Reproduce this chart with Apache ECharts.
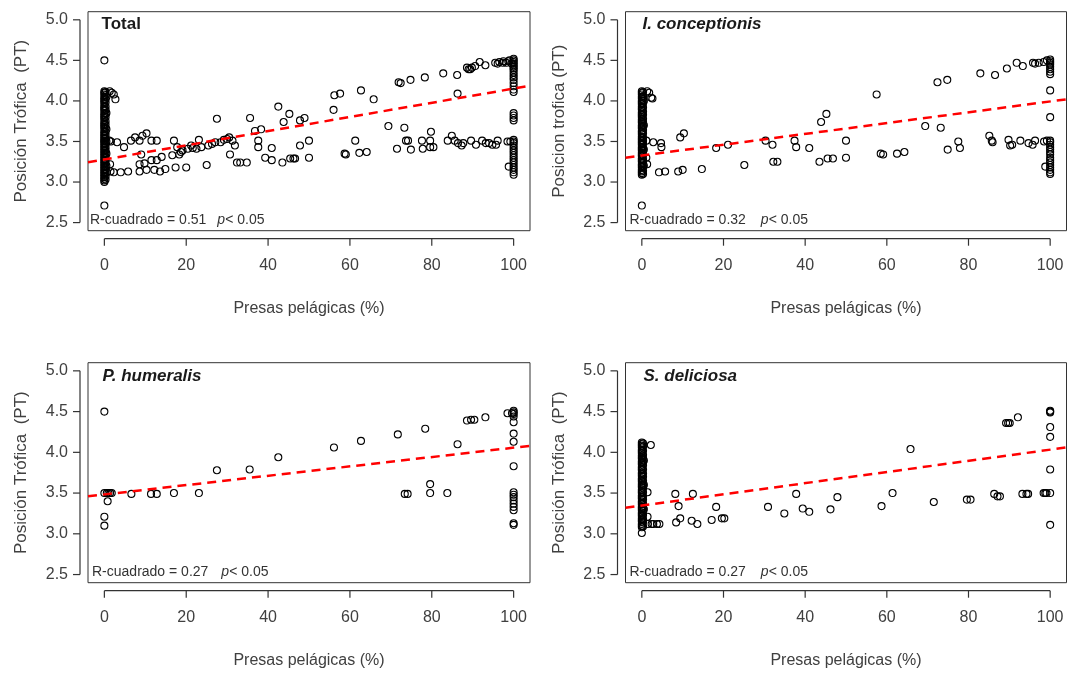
<!DOCTYPE html>
<html>
<head>
<meta charset="utf-8">
<script src="https://cdn.jsdelivr.net/npm/echarts@6/dist/echarts.min.js"></script>
<style>
html,body{margin:0;padding:0;background:#ffffff;}
#chart{width:1070px;height:673px;}
</style>
</head>
<body>
<div id="chart"></div>
<script>
// ---------------- DATA ----------------
const xTicks = [0, 20, 40, 60, 80, 100];
const yTicks = [2.5, 3.0, 3.5, 4.0, 4.5, 5.0];
const xTitle = 'Presas pelágicas (%)';
const yTitles = ['Posición Trófica  (PT)', 'Posicion trofica (PT)', 'Posición Trófica  (PT)', 'Posición Trófica  (PT)'];
const panelNames = ['Total', 'I. conceptionis', 'P. humeralis', 'S. deliciosa'];
const rSquared = ['0.51', '0.32', '0.27', '0.27'];
const pText = '< 0.05';

// Total
const totalCol0 = [4.12,4.1,4.08,4.05,4.03,4.01,3.99,3.97,3.94,3.92,3.9,3.88,3.85,3.83,3.81,3.79,3.77,3.74,3.72,3.7,3.68,3.66,3.63,3.61,3.59,3.57,3.55,3.53,3.51,3.5,3.48,3.46,3.44,3.42,3.4,3.38,3.36,3.34,3.32,3.3,3.28,3.26,3.24,3.22,3.2,3.18,3.16,3.14,3.12,3.1,3.08,3.06,3.04,3.02,3.0];
const totalCol0b = [4.11,4.07,4.02,3.98,3.93,3.89,3.84,3.8,3.75,3.71,3.67,3.62,3.58,3.54,3.5,3.47,3.43,3.39,3.35,3.31,3.27,3.23,3.19,3.15,3.11,3.07,3.03];
const totalCol100 = [4.52,4.5,4.48,4.46,4.44,4.42,4.4,4.38,4.35,4.32,4.29,4.26,4.22,4.18,4.14,4.11,3.85,3.82,3.79,3.76,3.52,3.5,3.48,3.45,3.42,3.39,3.36,3.33,3.3,3.27,3.24,3.21,3.18,3.15,3.12,3.09];
const totalPts = [[0,4.5],[0,2.71],[0.5,4.05],[0.5,3.85],[0.5,3.65],[0.5,3.5],[0.5,3.35],[0.5,3.2],[0.6,3.12],
[1.3,4.12],[1.8,4.1],[2.3,4.08],[2.7,4.02],[1.2,3.51],[1.6,3.5],[3.1,3.49],[4.8,3.43],[1.4,3.22],
[1.5,3.13],[2.3,3.12],[4.0,3.12],[5.8,3.13],[6.5,3.51],[7.5,3.55],[8.6,3.51],[9.3,3.57],[10.3,3.6],[11.5,3.51],[12.8,3.51],
[9.0,3.34],[8.6,3.22],[9.8,3.23],[8.6,3.13],[10.3,3.15],[11.5,3.27],[12.8,3.27],[12.2,3.15],[13.6,3.13],[14.0,3.31],[14.9,3.16],
[16.6,3.33],[17.0,3.51],[17.4,3.18],[17.8,3.43],[18.3,3.34],[18.7,3.37],[19.1,3.39],[20.0,3.18],[20.4,3.41],[21.2,3.45],[21.6,3.42],
[22.5,3.41],[23.1,3.52],[23.7,3.43],[25.0,3.21],[25.4,3.45],[26.3,3.47],[27.1,3.49],[27.5,3.78],[28.4,3.49],[29.2,3.52],[30.0,3.53],
[30.5,3.55],[30.7,3.34],[31.3,3.51],[31.9,3.45],[32.4,3.24],[33.2,3.24],[34.8,3.24],[35.6,3.79],[36.8,3.63],[37.6,3.51],[37.6,3.43],
[38.3,3.65],[39.3,3.3],[40.9,3.42],[40.9,3.27],[42.5,3.93],[43.5,3.24],[43.8,3.74],[45.2,3.84],[45.4,3.29],[46.2,3.29],[46.6,3.29],
[47.8,3.45],[47.8,3.76],[48.9,3.79],[50.0,3.51],[50.0,3.3],[56.0,3.89],[56.2,4.07],[57.6,4.09],[58.7,3.35],[59.0,3.34],[61.3,3.51],
[62.3,3.36],[62.7,4.13],[64.1,3.37],[65.8,4.02],[69.4,3.69],[71.5,3.41],[71.9,4.23],[72.4,4.22],[73.3,3.67],[73.7,3.51],[74.2,3.51],
[74.9,3.4],[74.8,4.26],[77.6,3.51],[77.8,3.41],[78.3,4.29],[79.8,3.62],[79.6,3.51],[79.6,3.43],[80.4,3.43],[82.8,4.34],[83.9,3.51],
[84.9,3.57],[85.6,3.51],[86.2,4.32],[86.3,4.09],[86.4,3.48],[87.3,3.45],[87.7,3.48],[88.6,4.41],[89.0,4.39],[89.4,4.39],[89.8,4.41],
[89.6,3.51],[90.6,4.43],[90.8,3.46],[91.7,4.48],[92.3,3.51],[93.1,4.44],[93.2,3.48],[94.0,3.48],[94.8,3.46],[95.7,3.46],[96.1,3.51],
[95.5,4.47],[96.1,4.46],[96.5,4.48],[97.4,4.47],[97.5,4.49],[98.2,4.47],[98.7,4.49],[99.0,4.5],[99.5,4.46],[98.8,3.19],[98.5,3.5],[99.2,3.5]];
const totalFit = [[-4, 3.243], [104, 4.187]];

// I. conceptionis
const concCol0 = [4.12,4.1,4.08,4.05,4.03,4.0,3.98,3.96,3.93,3.91,3.89,3.86,3.84,3.82,3.8,3.77,3.75,3.73,3.7,3.68,3.66,3.63,3.61,3.59,3.56,3.54,3.52,3.5,3.48,3.46,3.43,3.41,3.39,3.36,3.34,3.32,3.29,3.27,3.25,3.22,3.2,3.18,3.15,3.13,3.11,3.09];
const concCol0b = [4.11,4.06,4.02,3.97,3.92,3.87,3.83,3.78,3.74,3.69,3.64,3.6,3.55,3.51,3.47,3.42,3.38,3.33,3.28,3.24,3.19,3.14,3.1];
const concCol100 = [4.51,4.49,4.47,4.45,4.42,4.39,4.36,4.33,4.13,3.8,3.51,3.49,3.46,3.43,3.4,3.37,3.34,3.3,3.27,3.24,3.21,3.18,3.15,3.12,3.1];
const concPts = [[0,2.71],[0.5,4.0],[0.5,3.7],[0.5,3.4],[0.5,3.2],[1.3,4.12],[1.8,4.1],[2.3,4.04],[2.6,4.03],
[1.1,3.51],[2.8,3.49],[4.7,3.48],[4.8,3.43],[1.3,3.22],[1.1,3.3],[4.2,3.12],[5.7,3.13],[8.9,3.13],[10.0,3.15],[9.4,3.55],
[10.3,3.6],[14.7,3.16],[18.2,3.42],[21.1,3.46],[25.1,3.21],[30.3,3.51],[32.0,3.46],[32.2,3.25],[33.2,3.25],[37.4,3.51],
[37.8,3.43],[41.0,3.42],[43.5,3.25],[43.9,3.74],[45.2,3.84],[45.5,3.29],[46.8,3.29],[50.0,3.51],[50.0,3.3],[57.5,4.08],
[58.5,3.35],[59.1,3.34],[62.5,3.35],[64.3,3.37],[69.4,3.69],[72.4,4.23],[73.2,3.67],[74.8,4.26],[74.9,3.4],[77.5,3.5],
[77.9,3.42],[82.9,4.34],[85.1,3.57],[85.7,3.51],[85.9,3.49],[86.5,4.32],[89.4,4.4],[89.8,3.52],[90.2,3.45],[90.7,3.46],
[91.8,4.47],[92.7,3.51],[93.3,4.43],[94.7,3.48],[95.7,3.46],[96.3,3.51],[95.8,4.47],[96.3,4.46],[97.2,4.47],[98.4,4.48],
[99.2,4.5],[98.8,3.19],[99.2,3.51],[98.5,3.5]];
const concFit = [[-4, 3.30], [104, 4.02]];

// P. humeralis
const humCol100 = [4.51,4.49,4.47,4.44,4.37,4.23,4.13,3.83,3.51,3.48,3.45,3.41,3.37,3.33,3.29,3.13,3.11];
const humPts = [[0,4.5],[0,3.5],[0.6,3.5],[1.0,3.5],[1.4,3.5],[1.8,3.5],[0.8,3.4],[0,3.21],[0,3.1],
[6.6,3.49],[11.4,3.49],[12.8,3.49],[17.0,3.5],[23.1,3.5],[27.5,3.78],[35.5,3.79],[42.5,3.94],[56.1,4.06],
[62.7,4.14],[71.7,4.22],[73.4,3.49],[74.1,3.49],[78.4,4.29],[79.6,3.61],[79.6,3.5],[83.8,3.5],[86.3,4.1],
[88.6,4.39],[89.6,4.4],[90.4,4.4],[93.1,4.43],[98.5,4.48],[99.6,4.48]];
const humFit = [[-4, 3.46], [104, 4.08]];

// S. deliciosa
const delCol0 = [4.12,4.1,4.08,4.06,4.03,4.01,3.99,3.96,3.94,3.92,3.89,3.87,3.85,3.82,3.8,3.78,3.75,3.73,3.71,3.68,3.66,3.64,3.61,3.59,3.57,3.54,3.52,3.5,3.47,3.45,3.43,3.4,3.38,3.36,3.33,3.31,3.29,3.26,3.24,3.22,3.19,3.17,3.15,3.12,3.1,3.08];
const delCol0b = [4.11,4.07,4.02,3.97,3.93,3.88,3.84,3.79,3.74,3.7,3.65,3.6,3.56,3.51,3.46,3.42,3.37,3.32,3.28,3.23,3.18,3.14,3.09];
const delCol100 = [4.51,4.5,4.49,4.31,4.19,3.79,3.5,3.11];
const delPts = [[0,3.01],[0.5,3.9],[0.5,3.6],[0.5,3.3],[2.2,4.09],[1.4,3.51],[1.4,3.21],[1.5,3.12],[2.4,3.12],[2.8,3.12],[3.7,3.12],[4.3,3.12],
[8.2,3.49],[9.0,3.34],[8.4,3.14],[9.4,3.19],[12.5,3.49],[12.2,3.16],[13.6,3.12],[17.1,3.17],[18.2,3.33],[19.6,3.19],[20.2,3.19],
[30.9,3.33],[34.9,3.25],[37.8,3.49],[39.4,3.31],[41.0,3.27],[46.2,3.3],[47.9,3.45],[58.7,3.34],[61.4,3.5],[65.8,4.04],[71.5,3.39],
[79.6,3.42],[80.5,3.42],[86.3,3.49],[87.1,3.46],[87.7,3.46],[89.2,4.36],[89.7,4.36],[90.1,4.36],[92.1,4.43],[93.2,3.49],[94.2,3.49],
[94.6,3.49],[98.4,3.5],[98.8,3.5],[99.1,3.5]];
const delFit = [[-4, 3.32], [104, 4.06]];

// ---------------- LAYOUT ----------------
const FONT = "'Liberation Sans', Arial, Helvetica, sans-serif";
const boxes = [
  {left: 88,    top: 11.7,  width: 442, height: 219},
  {left: 625.5, top: 11.7,  width: 441, height: 219},
  {left: 88,    top: 362.7, width: 442, height: 220},
  {left: 625.5, top: 362.7, width: 441, height: 220}
];
const AXIS_GAP = 8, TICK_LEN = 7;
const XMIN = -4, XMAX = 104, YMIN = 2.4, YMAX = 5.1;
const titleTops = [15.5, 15.5, 367.5, 367.5];
const titleLefts = [101.6, 642.5, 102.6, 643.5];
const annLefts = [90, 629.5, 92, 629.5];
const annTops = [213, 213, 565, 565];
const annGaps = [11, 15, 13, 15];

const colPts = (vals, x) => vals.map(v => [x, v]);
const panelData = [
  {pts: totalPts.concat(colPts(totalCol0, 0), colPts(totalCol0b, 0.3), colPts(totalCol100, 100)), fit: totalFit},
  {pts: concPts.concat(colPts(concCol0, 0), colPts(concCol0b, 0.3), colPts(concCol100, 100)), fit: concFit},
  {pts: humPts.concat(colPts(humCol100, 100)), fit: humFit},
  {pts: delPts.concat(colPts(delCol0, 0), colPts(delCol0b, 0.3), colPts(delCol100, 100)), fit: delFit}
];

const grid = [], xAxis = [], yAxis = [], series = [], title = [];
const axisColor = '#333333';
const labelColor = '#404040';

boxes.forEach((b, i) => {
  grid.push({left: b.left, top: b.top, width: b.width, height: b.height, show: true,
    borderColor: '#333333', borderWidth: 1, backgroundColor: 'transparent', containLabel: false});
  const gx = (xTicks[0] - XMIN) / (XMAX - XMIN) * b.width;
  const gw = (xTicks[xTicks.length - 1] - xTicks[0]) / (XMAX - XMIN) * b.width;
  const gy = (YMAX - yTicks[yTicks.length - 1]) / (YMAX - YMIN) * b.height;
  const gh = (yTicks[yTicks.length - 1] - yTicks[0]) / (YMAX - YMIN) * b.height;
  const gb = b.height - gy - gh;
  grid.push({left: b.left + gx, top: b.top + gy, width: gw, height: gh, show: false});

  const gA = 2 * i, gB = 2 * i + 1;
  xAxis.push({gridIndex: gA, type: 'value', min: XMIN, max: XMAX, show: false});
  yAxis.push({gridIndex: gA, type: 'value', min: YMIN, max: YMAX, show: false});
  xAxis.push({gridIndex: gB, type: 'value', min: xTicks[0], max: xTicks[xTicks.length - 1],
    interval: xTicks[1] - xTicks[0], position: 'bottom', offset: gb + AXIS_GAP,
    axisLine: {show: false, onZero: false},
    axisTick: {show: false},
    axisLabel: {show: true, margin: 19, fontSize: 16, color: labelColor, fontFamily: FONT},
    splitLine: {show: false},
    name: xTitle, nameLocation: 'middle', nameGap: 62,
    nameTextStyle: {fontSize: 16, color: labelColor, fontFamily: FONT}});
  yAxis.push({gridIndex: gB, type: 'value', min: yTicks[0], max: yTicks[yTicks.length - 1],
    interval: yTicks[1] - yTicks[0], position: 'left', offset: gx + AXIS_GAP,
    axisLine: {show: false, onZero: false},
    axisTick: {show: false},
    axisLabel: {show: true, margin: 12, fontSize: 16, color: labelColor, fontFamily: FONT,
      formatter: v => { const k = yTicks.findIndex(t => Math.abs(t - v) < 1e-9); return k >= 0 ? yTicks[k].toFixed(1) : ''; }},
    splitLine: {show: false},
    name: yTitles[i], nameLocation: 'middle', nameGap: 50, nameRotate: 90,
    nameTextStyle: {fontSize: 17, color: labelColor, fontFamily: FONT}});

  series.push({type: 'scatter', xAxisIndex: gA, yAxisIndex: gA, data: panelData[i].pts,
    symbol: 'circle', symbolSize: 7, silent: true, z: 2,
    itemStyle: {color: 'rgba(0,0,0,0)', borderColor: '#000000', borderWidth: 1.1, opacity: 1}});
  series.push({type: 'line', xAxisIndex: gA, yAxisIndex: gA, data: panelData[i].fit,
    symbol: 'none', silent: true, z: 3,
    lineStyle: {color: '#ff0000', width: 2.5, type: [9, 6]}});
  series.push({type: 'scatter', xAxisIndex: gB, yAxisIndex: gB, data: [], silent: true});

  const italic = i > 0;
  title.push({text: panelNames[i], left: titleLefts[i], top: titleTops[i], padding: 0,
    textStyle: {fontSize: 17, fontWeight: 'bold', fontStyle: italic ? 'italic' : 'normal',
      color: '#1a1a1a', fontFamily: FONT}});
  title.push({text: '{n|R-cuadrado = ' + rSquared[i] + '}{p|p}{n|' + pText + '}',
    left: annLefts[i], top: annTops[i], padding: 0,
    textStyle: {fontSize: 14, fontWeight: 'normal', color: '#333333', fontFamily: FONT,
      rich: {
        n: {fontSize: 14, fontWeight: 'normal', color: '#333333', fontFamily: FONT},
        p: {fontSize: 14, fontWeight: 'normal', color: '#333333', fontFamily: FONT, fontStyle: 'italic', padding: [0, 0, 0, annGaps[i]]}
      }}});
});

const chart = echarts.init(document.getElementById('chart'), null, {renderer: 'canvas'});
chart.setOption({
  animation: false,
  backgroundColor: '#ffffff',
  title: title,
  grid: grid,
  xAxis: xAxis,
  yAxis: yAxis,
  tooltip: {show: false},
  series: series
});

// R-style detached axis lines and ticks, positioned through the axes' own scales
const graphics = [];
const ls = {stroke: axisColor, lineWidth: 1.2};
boxes.forEach((b, i) => {
  const gB = 2 * i + 1;
  const toPx = (x, y) => chart.convertToPixel({gridIndex: gB}, [x, y]);
  const axY = b.top + b.height + AXIS_GAP;
  const axX = b.left - AXIS_GAP;
  const pA = toPx(xTicks[0], yTicks[0]);
  const pB = toPx(xTicks[xTicks.length - 1], yTicks[yTicks.length - 1]);
  graphics.push({type: 'line', silent: true, z: 100, shape: {x1: pA[0], y1: axY, x2: pB[0], y2: axY}, style: ls});
  graphics.push({type: 'line', silent: true, z: 100, shape: {x1: axX, y1: pA[1], x2: axX, y2: pB[1]}, style: ls});
  xTicks.forEach(t => {
    const px = toPx(t, yTicks[0])[0];
    graphics.push({type: 'line', silent: true, z: 100, shape: {x1: px, y1: axY, x2: px, y2: axY + TICK_LEN}, style: ls});
  });
  yTicks.forEach(t => {
    const py = toPx(xTicks[0], t)[1];
    graphics.push({type: 'line', silent: true, z: 100, shape: {x1: axX - TICK_LEN, y1: py, x2: axX, y2: py}, style: ls});
  });
});
chart.setOption({graphic: graphics});
</script>
</body>
</html>
